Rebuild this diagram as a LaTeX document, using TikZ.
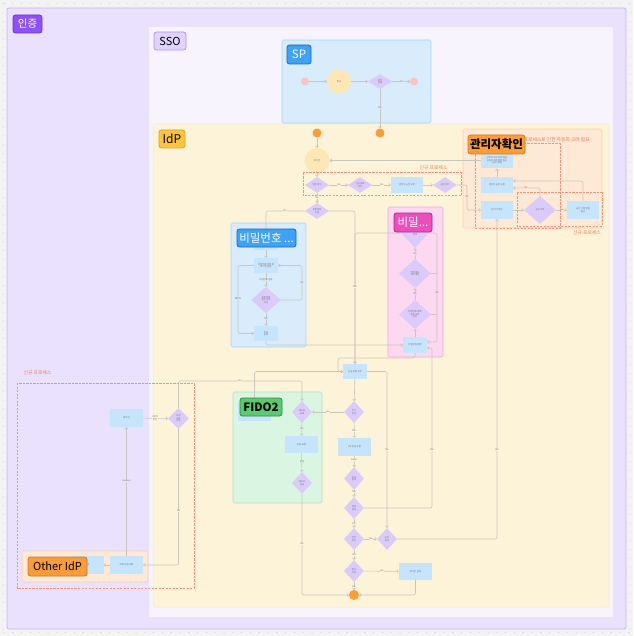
\documentclass[tikz,border=0pt]{standalone}
\usepackage{fontspec}
\setmainfont{Noto Sans CJK KR}
\usetikzlibrary{shapes.geometric,arrows.meta,calc}
\definecolor{canvas}{HTML}{F3F3F3}
\definecolor{dotc}{HTML}{C4C4C4}
\definecolor{authfill}{HTML}{E9E1FD}
\definecolor{authline}{HTML}{C7B3F7}
\definecolor{ssofill}{HTML}{F7F4FE}
\definecolor{idpfill}{HTML}{FDF3D9}
\definecolor{idpline}{HTML}{F7E7BF}
\definecolor{spfill}{HTML}{D8ECFC}
\definecolor{spline}{HTML}{A9D3F6}
\definecolor{admfill}{HTML}{FDE9D5}
\definecolor{admline}{HTML}{F8D2A8}
\definecolor{pinkfill}{HTML}{FCD8F1}
\definecolor{pinkline}{HTML}{F6A6DE}
\definecolor{greenfill}{HTML}{DAF5E1}
\definecolor{greenline}{HTML}{AEE4BC}
\definecolor{boxc}{HTML}{C6E4FB}
\definecolor{diac}{HTML}{DBCBFB}
\definecolor{yellc}{HTML}{FDE7B4}
\definecolor{orangec}{HTML}{F99C3A}
\definecolor{pinkc}{HTML}{F8C5C5}
\definecolor{edgec}{HTML}{CBC6BD}
\definecolor{dashc}{HTML}{F4927A}
\definecolor{redtext}{HTML}{EE7752}
\definecolor{tinyc}{HTML}{6F6F6F}
\definecolor{tagpurple}{HTML}{8C52F4}
\definecolor{tagpurpled}{HTML}{6A34CF}
\definecolor{tagsso}{HTML}{E0D3FC}
\definecolor{tagssod}{HTML}{B08FF4}
\definecolor{tagblue}{HTML}{3EA2F6}
\definecolor{tagblued}{HTML}{1C66B8}
\definecolor{tagyel}{HTML}{FBC43E}
\definecolor{tagyeld}{HTML}{DCA327}
\definecolor{tagorg}{HTML}{F99C39}
\definecolor{tagorgd}{HTML}{D27A20}
\definecolor{tagpink}{HTML}{EC4FBB}
\definecolor{tagpinkd}{HTML}{B22585}
\definecolor{taggreen}{HTML}{5CCB6F}
\definecolor{taggreend}{HTML}{2F8B40}
\newcommand\tnf{\fontsize{2.3}{2.6}\selectfont}
\begin{document}
\begin{tikzpicture}[x=1pt,y=-1pt,
  boxn/.style={rectangle,fill=boxc,inner sep=0pt,font=\tnf,text=tinyc,align=center,minimum width=33pt,minimum height=18pt},
  dia/.style={diamond,fill=diac,inner sep=0pt,font=\tnf,text=tinyc,align=center,minimum width=20pt,minimum height=22pt},
  ycirc/.style={circle,fill=yellc,inner sep=0pt,minimum size=25pt,font=\tnf,text=tinyc},
  ocirc/.style={circle,fill=orangec,inner sep=0pt,minimum size=9pt},
  pcirc/.style={circle,fill=pinkc,inner sep=0pt,minimum size=8pt},
  ed/.style={draw=edgec,line width=0.6pt,rounded corners=2pt,-{Straight Barb[length=1.5pt,width=3pt]}},
  plainln/.style={draw=edgec,line width=0.6pt,rounded corners=2pt},
  lab/.style={font=\tnf,text=tinyc,fill=idpfill,inner sep=0.3pt,align=center},
  dashbox/.style={draw=dashc,line width=1pt,dash pattern=on 2.2pt off 1.3pt},
  redlab/.style={font=\fontsize{4.8}{5.5}\selectfont,text=redtext,inner sep=0pt},
  grouptag/.style={rounded corners=2.5pt,line width=0.8pt,inner sep=0pt,font=\fontsize{11}{13}\selectfont},
]
\useasboundingbox (0,0) rectangle (633,636);
\fill[canvas] (0,0) rectangle (633,636);
\foreach \t in {4,12.8,...,633}{
  \fill[dotc] (\t,3.5) circle (0.5);
  \fill[dotc] (\t,632.5) circle (0.5);
  \fill[dotc] (3,\t) circle (0.5);
  \fill[dotc] (630,\t) circle (0.5);
}
% frames
\draw[fill=authfill,draw=authline,line width=0.8pt,rounded corners=2pt] (7,8) rectangle (626,629);
\fill[ssofill] (149,27) rectangle (613,617);
\draw[fill=idpfill,draw=idpline,line width=0.5pt,rounded corners=1.5pt] (153,124) rectangle (609,607);
\draw[fill=spfill,draw=spline,line width=0.6pt,rounded corners=1.5pt] (282,40) rectangle (431,123);
\draw[fill=admfill,draw=admline,line width=0.6pt,rounded corners=1.5pt] (463,129) rectangle (602,228);
\draw[fill=spfill,draw=spline,line width=0.6pt,rounded corners=1.5pt] (231,223) rectangle (306,347);
\draw[fill=pinkfill,draw=pinkline,line width=0.6pt,rounded corners=1.5pt] (388,207) rectangle (443,357);
\draw[fill=greenfill,draw=greenline,line width=0.6pt,rounded corners=1.5pt] (233,392) rectangle (322,503);
\draw[fill=admfill,draw=admline,line width=0.6pt,rounded corners=1.5pt] (22,551) rectangle (148,582);

% SP nodes
\node[pcirc] (spA) at (305,81.5) {};
\node[ycirc,minimum size=24pt] (spB) at (339,81.5) {접속};
\node[dia,minimum width=24pt,minimum height=15pt] (spC) at (380,81.5) {세션\\유효};
\node[pcirc] (spD) at (414,81.5) {};

% IdP top
\node[ocirc] (idpA) at (317,133) {};
\node[ocirc] (idpB) at (380,133) {};
\node[ycirc] (login) at (317,160.5) {로그인};
\node[dia,minimum width=24pt,minimum height=16pt] (d1) at (317,185) {인증 방식};
\node[dia,minimum width=24pt,minimum height=16pt] (d2) at (360,185) {신규 등록\\여부};
\node[boxn,minimum width=32pt,minimum height=16pt] (bx1) at (407,185) {관리자 승인 요청};
\node[dia,minimum width=24pt,minimum height=16pt] (d4) at (445,185) {승인 대기};
\node[dia,minimum width=24pt,minimum height=16pt] (d5) at (317,211) {비밀번호\\인증};

% admin
\node[boxn,minimum width=32pt,minimum height=16pt] (admA) at (497,160.5) {관리자 승인 요청 알림\\담당자에게 메일 발송\\(승인 요청)};
\node[boxn,minimum width=32pt,minimum height=16pt] (admB) at (497,185) {관리자 승인 요청};
\node[boxn,minimum width=32pt,minimum height=18pt] (admC) at (497,210) {관리자 확인};
\node[dia,minimum width=32pt,minimum height=28pt] (admD) at (540,210) {승인 여부};
\node[boxn,minimum width=32pt,minimum height=18pt] (admE) at (583,210) {승인 거절 알림\\발송};

% password
\node[boxn,minimum width=24pt,minimum height=12pt] (pw0) at (266,244) {};
\node[boxn,minimum width=24pt,minimum height=15pt] (pw1) at (266,265.5) {비밀번호 입력 후\\로그인 요청};
\node[dia,minimum width=30pt,minimum height=26pt] (pw2) at (266,300) {비밀번호\\일치 여부\\확인};
\node[boxn,minimum width=24pt,minimum height=15pt] (pw3) at (266,333.5) {인증\\완료};

% pink
\node[dia,minimum width=28pt,minimum height=30pt] (s1) at (415,233) {비밀\\번호};
\node[dia,minimum width=32pt,minimum height=29pt] (s2) at (415,273.5) {변경 필요\\여부 확인};
\node[dia,minimum width=32pt,minimum height=29pt] (s3) at (415,314.5) {비밀번호 정책\\충족 여부\\확인};
\node[boxn,minimum width=24pt,minimum height=16pt] (s4) at (415,345) {비밀번호 변경};

% main column
\node[boxn,minimum width=24pt,minimum height=15pt] (m1) at (355,371.5) {인증 완료 처리};
\node[dia] (m2) at (354,412) {추가\\인증};
\node[boxn] (m3) at (354.5,447) {2차 인증 요청};
\node[dia,minimum height=23pt] (m4) at (354,478.5) {인증\\결과};
\node[dia] (m5) at (354,508) {세션\\생성};
\node[dia] (m6) at (354,539) {권한\\확인};
\node[dia] (d7) at (387,539) {승인\\필요};
\node[dia] (m7) at (354,571) {접근\\허용};
\node[boxn,minimum height=17pt] (m8) at (415.5,571.5) {로그인 실패};
\node[ocirc,minimum size=10pt] (endc) at (354,595) {};

% FIDO
\node[boxn] (fido0) at (254.5,412) {};
\node[dia] (f1) at (302,412) {FIDO2\\등록};
\node[boxn,minimum height=17pt] (f2) at (301.5,444.5) {인증 요청};
\node[dia] (f3) at (302,483) {FIDO2\\검증};

% left / other idp
\node[boxn] (l0) at (126.5,418) {로그인};
\node[dia,minimum width=21pt,minimum height=21pt] (l1) at (178.5,418.5) {외부\\IdP\\여부};
\node[ycirc,minimum size=18pt] (oy) at (45,566) {};
\node[boxn] (l2) at (87,565) {인증};
\node[boxn] (l3) at (126.5,565) {외부 인증 요청};

% waypoints
\coordinate (w1) at (467,197);
\coordinate (w2) at (302,283);
\coordinate (w3) at (238,299);
\coordinate (w4) at (437,293);
\coordinate (w5) at (338,358);
\coordinate (w6) at (432,348);
\coordinate (w7) at (302,381);

% edges
\draw[ed] (spA) -- (spB);
\draw[ed] (spB) -- (spC);
\draw[ed] (spC) -- (spD);
\draw[ed] (spC) -- (idpB);
\draw[ed] (idpA) -- (login);
\draw[ed] (login) -- (d1);
\draw[ed] (d1) -- (d2);
\draw[ed] (d2) -- (bx1);
\draw[ed] (bx1) -- (d4);
\draw[ed] (d1) -- (d5);
\draw[ed] (admA.west) -- (login.east);
\draw[ed] (d4.east) -| (w1) |- (admC.west);
\draw[ed] (admB) -- (admA);
\draw[ed] (admC) -- (admD);
\draw[ed] (admD) -- (admE);
\draw[ed] (admE.north) |- ([yshift=4pt]admB.east);
\draw[ed] (admD.north) |- ([yshift=-3pt]admB.east);
\draw[ed] (d7.east) -| (admC.south);
\draw[ed] (d5.west) -| (pw0.north);
\draw[ed] (pw0) -- (pw1);
\draw[ed] (pw1) -- (pw2);
\draw[ed] (pw2) -- (pw3);
\draw[ed] (pw2.east) -| (w2) |- (pw1.east);
\draw[ed] (pw1.west) -| (w3) |- (pw3.west);
\draw[ed] (pw3.south) |- (s4.west);
\draw[ed] (s4) -- (s3);
\draw[ed] (s3) -- (s2);
\draw[ed] (s2) -- (s1);
\draw[ed] (s1.east) -| (w4) |- ([yshift=3pt]s4.east);
\draw[plainln] (s2.east) -- (s2.east -| w4);
\draw[plainln] (s3.east) -- (s3.east -| w4);
\draw[ed] (d5.east) -| (m1.north);
\draw[ed] (s1.west) -| (m1.north);
\draw[ed] (s4.south) |- (w5) |- (m1.west);
\draw[ed] (m1.west) -| (fido0.north);
\draw[ed] (m1.east) -| (d7.north);
\draw[ed] (m1) -- (m2);
\draw[ed] (m2) -- (f1);
\draw[ed] (m2) -- (m3);
\draw[ed] (m3) -- (m4);
\draw[ed] (m4) -- (m5);
\draw[ed] (m5.east) -| (w6) -- (w6 -| s4.east);
\draw[ed] (m5) -- (m6);
\draw[ed] (m6) -- (d7);
\draw[ed] (m6) -- (m7);
\draw[ed] (m7) -- (m8);
\draw[ed] (m7) -- (endc);
\draw[ed] (m8.south) |- (endc.east);
\draw[ed] (f3.south) |- (endc.west);
\draw[ed] (f1) -- (f2);
\draw[ed] (f2) -- (f3);
\draw[ed] (l1.north) |- (w7) -- (f1.north);
\draw[ed] (l0) -- (l1);
\draw[ed] (l1.south) |- (l3.east);
\draw[ed] (l3) -- (l2);
\draw[ed] (l3) -- (l0);

% edge labels
\node[lab,fill=spfill] (t1) at (402,81.5) {Yes};
\node[lab,fill=spfill] (t2) at (380,108) {No};
\node[lab] (t3) at (339,185) {Yes};
\node[lab] (t4) at (382,185) {Yes};
\node[lab] (t5) at (317,197.5) {No};
\node[lab] (t6) at (285,211) {Yes};
\node[lab] (t7) at (355,287) {No};
\node[lab,fill=spfill] (t8) at (266,280) {비밀번호 검증};
\node[lab,fill=spfill] (t9) at (266,319) {Yes};
\node[lab,fill=spfill] (t10) at (302,283) {No};
\node[lab,fill=spfill] (t11) at (238,299) {재시도};
\node[lab,fill=pinkfill] (t12) at (415,294) {Yes};
\node[lab,fill=pinkfill] (t13) at (415,253.5) {Yes};
\node[lab,fill=pinkfill] (t14) at (437,293) {No};
\node[lab,fill=admfill] (t15) at (526,188) {No};
\node[lab,fill=admfill] (t16) at (562,210) {No};
\node[lab,fill=admfill] (t17) at (467,197) {Yes};
\node[lab] (t18) at (328,412) {Yes};
\node[lab] (t19) at (354,431) {No};
\node[lab] (t20) at (354,460) {Done};
\node[lab] (t21) at (354,492) {No};
\node[lab] (t22) at (354,524) {Yes};
\node[lab] (t23) at (371,539) {No};
\node[lab] (t24) at (354,555) {Yes};
\node[lab] (t25) at (382,571) {Yes};
\node[lab] (t26) at (354,587) {No};
\node[lab] (t27) at (387,450) {No};
\node[lab] (t28) at (432,450) {No};
\node[lab] (t29) at (497,450) {Yes};
\node[lab] (t30) at (302,544) {Yes};
\node[lab,fill=greenfill] (t31) at (302,429) {Yes};
\node[lab,fill=greenfill] (t32) at (302,462) {성공};
\node[lab] (t33) at (240,381) {Yes};
\node[lab] (t34) at (155,418) {사용자\\확인};
\node[lab] (t35) at (178.5,511) {No};
\node[lab,fill=authfill] (t36) at (126.5,481) {Success};

% dashed regions
\draw[dashbox] (303,173) rectangle (461,196);
\draw[dashbox] (475,144) rectangle (560,228);
\draw[dashbox] (517,193) rectangle (602,226);
\draw[dashbox] (17,383) rectangle (194,588);
\node[redlab] (r1) at (433.5,168) {신규 프로세스};
\node[redlab] (r2) at (587,232.5) {신규 프로세스};
\node[redlab] (r3) at (37.5,373) {신규 프로세스};
\node[redlab,anchor=east] (r4) at (590,139.5) {신규 프로세스로 인한 자동화 고려 필요};

% group tags
\node[grouptag,fill=tagpurple,draw=tagpurpled,text=white,minimum width=29pt,minimum height=18pt,font=\fontsize{10.5}{12}\selectfont] (g1) at (27.5,24) {인증};
\node[grouptag,fill=tagsso,draw=tagssod,text=black,minimum width=32pt,minimum height=18pt] (g2) at (170,41) {SSO};
\node[grouptag,fill=tagblue,draw=tagblued,text=white,minimum width=24pt,minimum height=19pt,font=\fontsize{11.5}{13}\selectfont] (g3) at (299,54.5) {SP};
\node[grouptag,fill=tagyel,draw=tagyeld,text=black,minimum width=26pt,minimum height=18pt,font=\fontsize{12}{13}\selectfont] (g4) at (172,139) {IdP};
\node[grouptag,fill=tagorg,draw=tagorgd,text=black,minimum width=57pt,minimum height=19pt,font=\fontsize{11.5}{13}\selectfont\bfseries] (g5) at (496.5,144.5) {관리자확인};
\node[grouptag,fill=tagblue,draw=tagblued,text=white,minimum width=59pt,minimum height=18pt,font=\fontsize{11.5}{13}\selectfont] (g6) at (266.5,238) {비밀번호 ...};
\node[grouptag,fill=tagpink,draw=tagpinkd,text=white,minimum width=38pt,minimum height=19pt,font=\fontsize{11.5}{13}\selectfont] (g7) at (413,222.5) {비밀...};
\node[grouptag,fill=taggreen,draw=taggreend,text=black,minimum width=42pt,minimum height=18pt,font=\fontsize{11.5}{13}\selectfont\bfseries] (g8) at (261,407) {FIDO2};
\node[grouptag,fill=tagorg,draw=tagorgd,text=black,minimum width=59pt,minimum height=19pt] (g9) at (57.5,566.5) {Other IdP};
\end{tikzpicture}
\end{document}
